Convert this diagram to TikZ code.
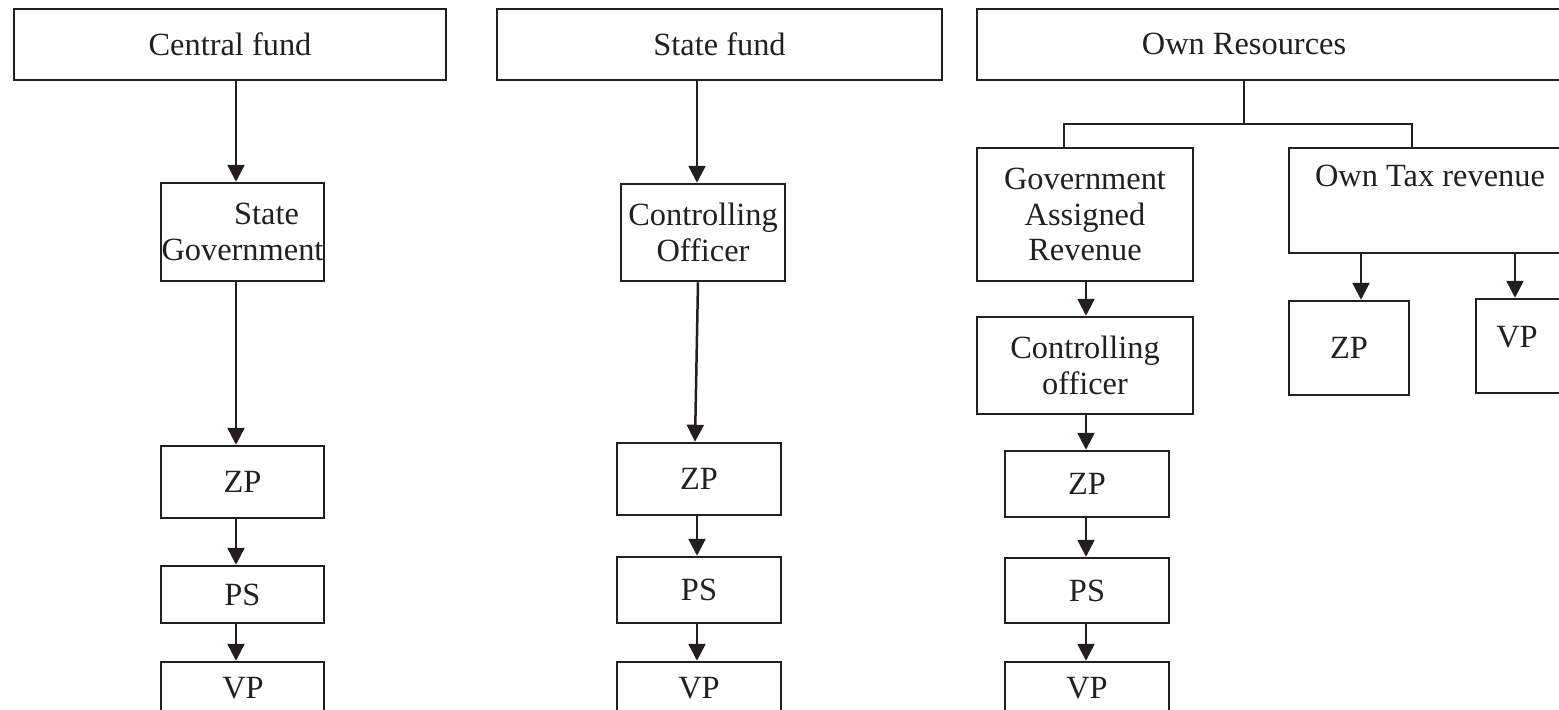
\documentclass[tikz,border=0pt]{standalone}
\usepackage{fontspec}
\setmainfont{Liberation Serif}
\usetikzlibrary{arrows.meta}
\definecolor{ink}{HTML}{231F20}
\tikzset{
  box/.style={draw=ink, line width=1.25pt, inner sep=0pt, align=center, text=ink,
    font=\fontsize{16.2}{17.8}\selectfont},
  lbl/.style={inner sep=0pt, align=center, text=ink, font=\fontsize{16.2}{17.8}\selectfont},
  arr/.style={draw=ink, line width=1.25pt, -{Triangle[length=8.5pt,width=8.5pt]}},
  ln/.style={draw=ink, line width=1.25pt},
}
% name, x1, y1, x2, y2 (pixels), text
\newcommand\bx[6]{%
  \node[box, minimum width={(#4-#2)*0.5pt}, minimum height={(#5-#3)*0.5pt}]
    (#1) at ({(#2+#4)/2},{(#3+#5)/2}) {#6};}
\begin{document}
\begin{tikzpicture}[x=0.5pt,y=-0.5pt]
\useasboundingbox (0,0) rectangle (1559,709);
% column 1
\bx{cf}{14}{9}{446}{80}{Central fund}
\bx{sg}{161}{183}{324}{281}{\hspace*{24pt}State\\Government}
\bx{zpa}{161}{446}{324}{518}{ZP}
\bx{psa}{161}{566}{324}{623}{PS}
\bx{vpa}{161}{662}{324}{760}{}
\node[lbl] (vpat) at (243,688) {VP};
\coordinate (xa) at (236,0);
\draw[arr] (cf.south -| xa) -- (sg.north -| xa);
\draw[arr] (sg.south -| xa) -- (zpa.north -| xa);
\draw[arr] (zpa.south -| xa) -- (psa.north -| xa);
\draw[arr] (psa.south -| xa) -- (vpa.north -| xa);
% column 2
\bx{sf}{497}{9}{942}{80}{State fund}
\bx{co}{621}{184}{785}{281}{Controlling\\Officer}
\bx{zpb}{617}{443}{781}{515}{ZP}
\bx{psb}{617}{557}{781}{623}{PS}
\bx{vpb}{617}{662}{781}{760}{}
\node[lbl] (vpbt) at (699,688) {VP};
\coordinate (xb) at (697,0);
\coordinate (xb2) at (698,0);
\coordinate (xb3) at (695,0);
\draw[arr] (sf.south -| xb) -- (co.north -| xb);
\draw[arr] (co.south -| xb2) -- (zpb.north -| xb3);
\draw[arr] (zpb.south -| xb) -- (psb.north -| xb);
\draw[arr] (psb.south -| xb) -- (vpb.north -| xb);
% column 3
\bx{ors}{977}{9}{1620}{80}{}
\node[lbl] (orst) at (1244,44) {Own Resources};
\bx{gar}{977}{148}{1193}{281}{Government\\Assigned\\Revenue}
\bx{cof}{977}{317}{1193}{414}{Controlling\\officer}
\bx{zpc}{1005}{451}{1169}{517}{ZP}
\bx{psc}{1005}{558}{1169}{623}{PS}
\bx{vpc}{1005}{662}{1169}{760}{}
\node[lbl] (vpct) at (1087,688) {VP};
\bx{otr}{1289}{148}{1640}{253}{}
\node[lbl] (otrt) at (1430,176) {Own Tax revenue};
\bx{zpd}{1289}{301}{1409}{395}{ZP}
\bx{vpd}{1476}{299}{1640}{393}{}
\node[lbl] (vpdt) at (1517,337) {VP};
% tree from Own Resources
\coordinate (xr) at (1244,0);
\coordinate (jn) at (1244,124);
\coordinate (xg) at (1064,0);
\coordinate (xt) at (1412,0);
\draw[ln] (ors.south -| xr) -- (jn);
\draw[ln] (gar.north -| xg) |- (jn) -| (otr.north -| xt);
\coordinate (xc) at (1086,0);
\draw[arr] (gar.south -| xc) -- (cof.north -| xc);
\draw[arr] (cof.south -| xc) -- (zpc.north -| xc);
\draw[arr] (zpc.south -| xc) -- (psc.north -| xc);
\draw[arr] (psc.south -| xc) -- (vpc.north -| xc);
\coordinate (xz) at (1361,0);
\coordinate (xv) at (1515,0);
\draw[arr] (otr.south -| xz) -- (zpd.north -| xz);
\draw[arr] (otr.south -| xv) -- (vpd.north -| xv);
\end{tikzpicture}
\end{document}
